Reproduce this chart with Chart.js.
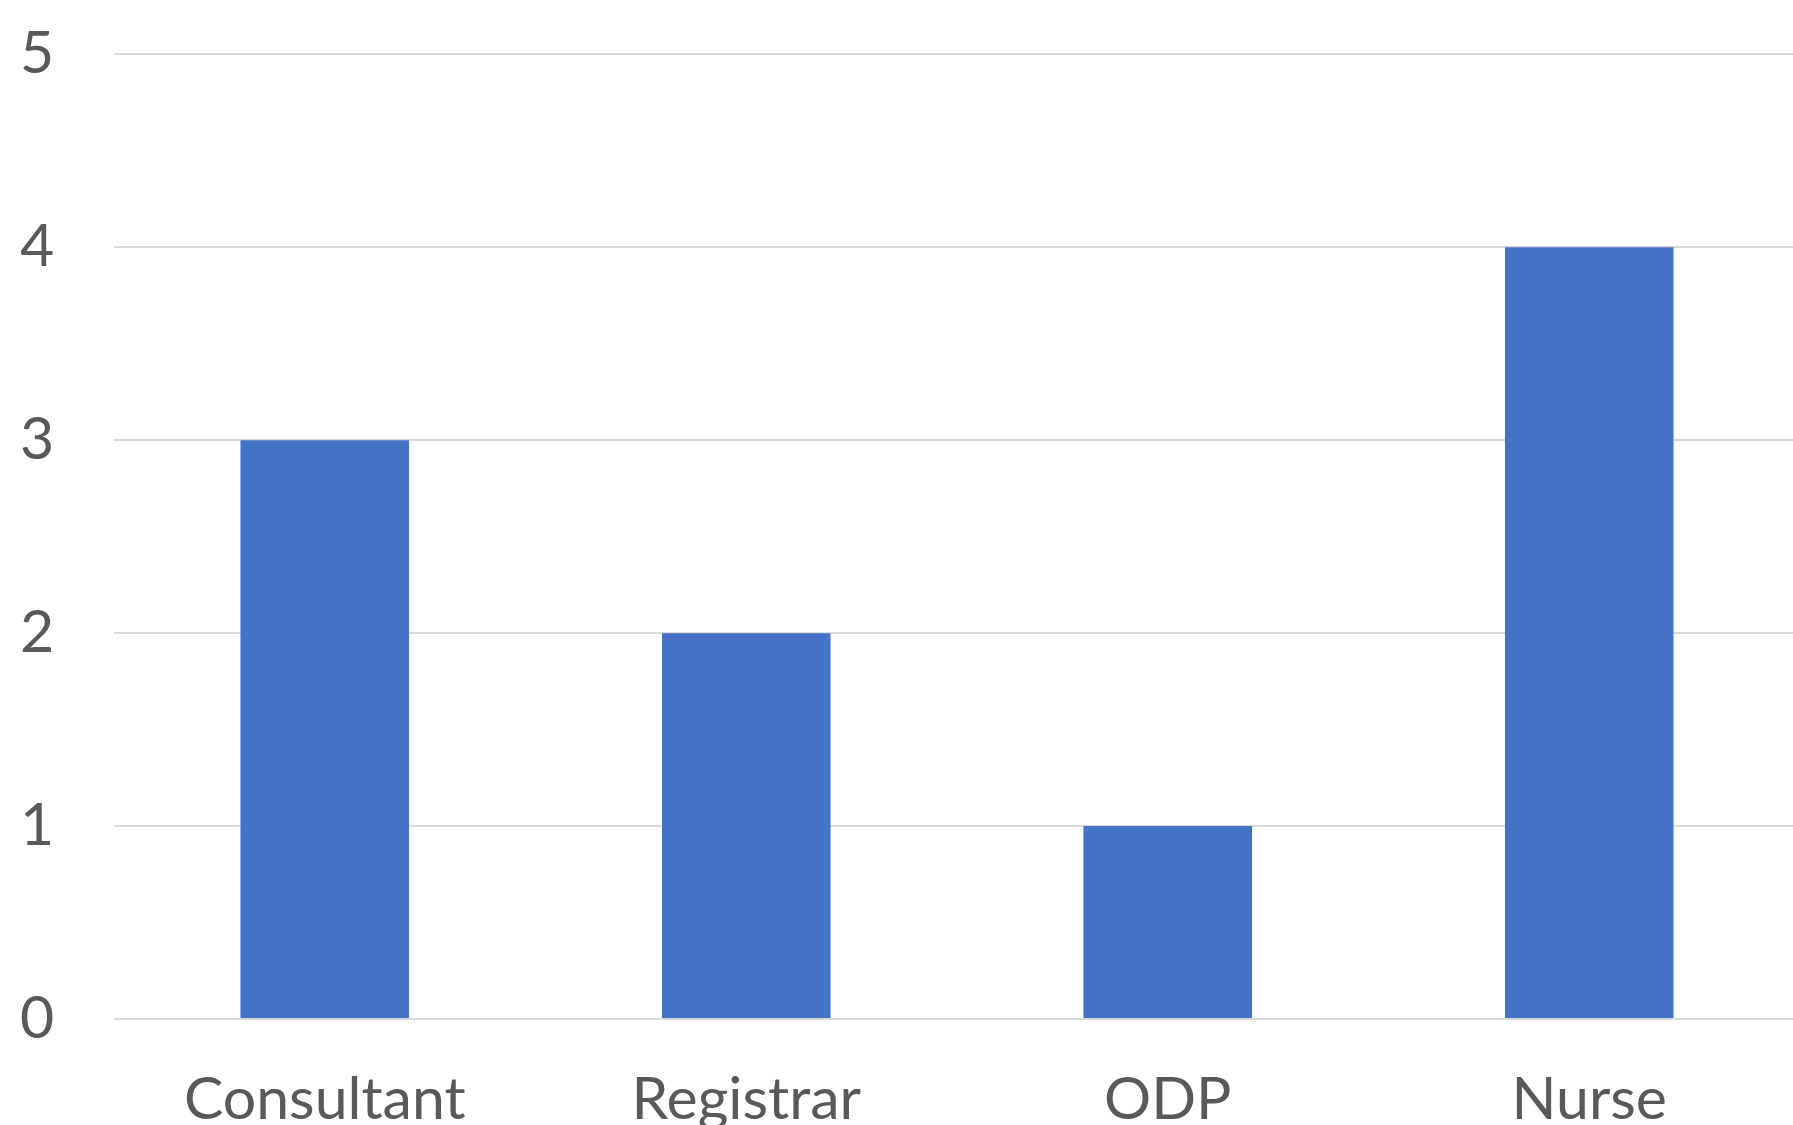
<!DOCTYPE html>
<html>
<head>
<meta charset="utf-8">
<script src="https://cdn.jsdelivr.net/npm/chart.js@4/dist/chart.umd.min.js"></script>
<style>
  html, body { margin: 0; padding: 0; background: #fff; overflow: hidden; }
  #wrap { width: 1800px; height: 1125px; position: relative; }
</style>
</head>
<body>
<div id="wrap"><canvas id="chart"></canvas></div>
<script>
// staff roles and counts
const roles  = ['Consultant', 'Registrar', 'ODP', 'Nurse'];
const counts = [3, 2, 1, 4];
const yTicks = [0, 1, 2, 3, 4, 5];

const textColor = '#595959';
const gridColor = '#d9d9d9';
const barColor  = '#4472c4';

new Chart(document.getElementById('chart').getContext('2d'), {
  type: 'bar',
  data: { labels: roles, datasets: [
    { data: counts, backgroundColor: barColor, borderWidth: 0, barPercentage: 0.4, categoryPercentage: 1.0 }
  ]},
  options: {
    responsive: true, maintainAspectRatio: false, animation: false,
    layout: { padding: { top: 0, right: 0, bottom: 0, left: 20 } },
    plugins: { legend: { display: false }, tooltip: { enabled: false } },
    scales: {
      x: {
        grid: { display: false },
        border: { display: false },
        ticks: { color: textColor, font: { family: 'Lato', size: 59 }, padding: 38, maxRotation: 0 },
        afterFit: a => { a.height = 106; }
      },
      y: {
        min: 0, max: 5,
        afterBuildTicks: a => { a.ticks = yTicks.map(v => ({ value: v })); },
        grid: { color: gridColor, lineWidth: 2, drawTicks: false },
        border: { display: false },
        // labels hug the left edge; padding here only sets the top gap
        ticks: { color: textColor, font: { family: 'Lato', size: 59 }, padding: 19, crossAlign: 'far' },
        afterFit: a => { a.width = 94; }
      }
    }
  }
});
</script>
</body>
</html>
